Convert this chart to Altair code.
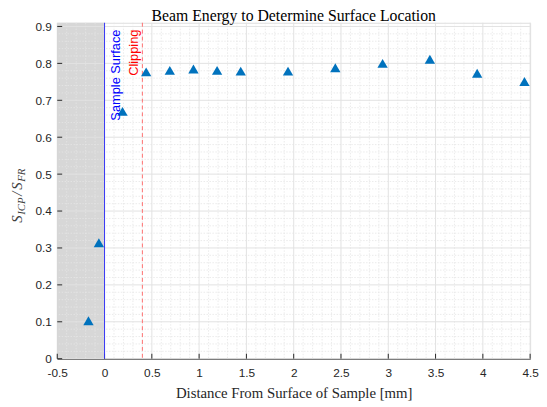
import altair as alt
import pandas as pd

# ---- data ----
dist = [-0.17, -0.06, 0.19, 0.44, 0.69, 0.94, 1.19, 1.44, 1.94, 2.44, 2.94, 3.44, 3.94, 4.44]
ratio = [0.103, 0.314, 0.670, 0.777, 0.781, 0.785, 0.781, 0.779, 0.779, 0.788, 0.800, 0.811, 0.773, 0.751]

x_ticks = [-0.5, 0, 0.5, 1, 1.5, 2, 2.5, 3, 3.5, 4, 4.5]
y_ticks = [0, 0.1, 0.2, 0.3, 0.4, 0.5, 0.6, 0.7, 0.8, 0.9]
x_minor = [round(-0.5 + 0.1 * i, 2) for i in range(51) if i % 5 != 0]
y_minor = [round(0.02 * i, 2) for i in range(46) if i % 5 != 0]

surface_x = 0.0
clip_x = 0.4
shade = {"x0": -0.5, "x1": 0.0, "y0": 0.0, "y1": 0.91}

title_text = "Beam Energy to Determine Surface Location"
annotations = [
    {"x": 0.163, "y": 0.8915, "label": "Sample Surface", "c": "#0000ff"},
    {"x": 0.351, "y": 0.8915, "label": "Clipping", "c": "#ff0000"},
]

W, H = 480, 341
XDOM = [-0.5, 4.5]
YDOM = [0, 0.91]
AX = "#262626"

xscale = alt.Scale(domain=XDOM, nice=False, zero=False)
yscale = alt.Scale(domain=YDOM, nice=False, zero=False)
xaxis = alt.Axis(values=x_ticks, labelExpr="toString(datum.value)", grid=False, ticks=False,
                 domainColor=AX, domainWidth=1, labelColor=AX, labelFont="Liberation Sans",
                 labelFontSize=12, labelPadding=9, labelFlush=False,
                 title="Distance From Surface of Sample [mm]", titleFont="Liberation Serif",
                 titleFontSize=15, titleFontWeight="normal", titleColor=AX, titlePadding=7)
yaxis = alt.Axis(values=y_ticks, labelExpr="toString(datum.value)", grid=False, ticks=False,
                 domainColor=AX, domainWidth=1, labelColor=AX, labelFont="Liberation Sans",
                 labelFontSize=12, labelPadding=6, labelFlush=False, title=None)


def X(field, **kw):
    return alt.X(field, type="quantitative", scale=xscale, axis=xaxis, **kw)


def Y(field, **kw):
    return alt.Y(field, type="quantitative", scale=yscale, axis=yaxis, **kw)


shade_layer = alt.Chart(pd.DataFrame([shade])).mark_rect(color="#d7d7d7").encode(
    x=X("x0"), x2="x1", y=Y("y0"), y2="y1")

minor_x = alt.Chart(pd.DataFrame({"v": x_minor})).mark_rule(
    color="#e6e6e6", strokeWidth=0.8, strokeDash=[1.5, 1.5]).encode(x=X("v"))
minor_y = alt.Chart(pd.DataFrame({"v": y_minor})).mark_rule(
    color="#e6e6e6", strokeWidth=0.8, strokeDash=[1.5, 1.5]).encode(y=Y("v"))
major_x = alt.Chart(pd.DataFrame({"v": x_ticks})).mark_rule(
    color="#e2e2e2", strokeWidth=1).encode(x=X("v"))
major_y = alt.Chart(pd.DataFrame({"v": y_ticks})).mark_rule(
    color="#e2e2e2", strokeWidth=1).encode(y=Y("v"))

xtick_layer = alt.Chart(pd.DataFrame({"v": x_ticks})).mark_rule(color=AX, strokeWidth=1).encode(
    x=X("v"), y=alt.value(H), y2=alt.value(H - 5))
ytick_layer = alt.Chart(pd.DataFrame({"v": y_ticks})).mark_rule(color=AX, strokeWidth=1).encode(
    y=Y("v"), x=alt.value(0), x2=alt.value(5))

surface_line = alt.Chart(pd.DataFrame({"v": [surface_x]})).mark_rule(
    color="#3535f5", strokeWidth=1).encode(x=X("v"))
clip_line = alt.Chart(pd.DataFrame({"v": [clip_x]})).mark_rule(
    color="#ff7070", strokeWidth=1, strokeDash=[4, 3]).encode(x=X("v"))

points = alt.Chart(pd.DataFrame({"d": dist, "r": ratio})).mark_point(
    shape="triangle-up", filled=True, size=110, color="#0072BD", opacity=1).encode(
    x=X("d"), y=Y("r"))

ann = alt.Chart(pd.DataFrame(annotations)).mark_text(
    angle=270, align="right", baseline="alphabetic", font="Liberation Sans", fontSize=13).encode(
    x=X("x"), y=Y("y"), text="label:N", color=alt.Color("c:N", scale=None))

# chart title as a text mark (kept inside the drawing area)
title_layer = alt.Chart(pd.DataFrame([{"t": title_text}])).mark_text(
    align="center", baseline="alphabetic", font="Liberation Serif", fontSize=16,
    color="#000000").encode(x=alt.value(W / 2), y=alt.value(-1.5), text="t:N")

# y-axis title  S_ICP / S_FR  built from pieces (rotated)
ylab_parts = [
    {"t": "S", "px": -36.0, "py": 203, "s": 15},
    {"t": "ICP", "px": -32.5, "py": 195, "s": 11},
    {"t": "/", "px": -36.0, "py": 175.5, "s": 15},
    {"t": "S", "px": -36.0, "py": 169.5, "s": 15},
    {"t": "FR", "px": -32.5, "py": 161.5, "s": 11},
]
ylab_layers = []
for p in ylab_parts:
    ylab_layers.append(
        alt.Chart(pd.DataFrame([{"t": p["t"]}])).mark_text(
            angle=270, align="left", baseline="alphabetic", font="Liberation Serif",
            fontStyle="italic", fontSize=p["s"], color="#404040").encode(
            x=alt.value(p["px"]), y=alt.value(p["py"]), text="t:N"))

chart = alt.layer(
    shade_layer, minor_x, minor_y, major_x, major_y, xtick_layer, ytick_layer,
    surface_line, clip_line, points, ann, title_layer, *ylab_layers
).properties(
    width=W, height=H,
    autosize=alt.AutoSizeParams(type="none"),
    padding={"left": 50, "top": 12, "right": 9, "bottom": 44},
).configure_view(stroke=None).configure(background="white")

chart.save("out.html", embed_options={"renderer": "svg", "actions": False})
